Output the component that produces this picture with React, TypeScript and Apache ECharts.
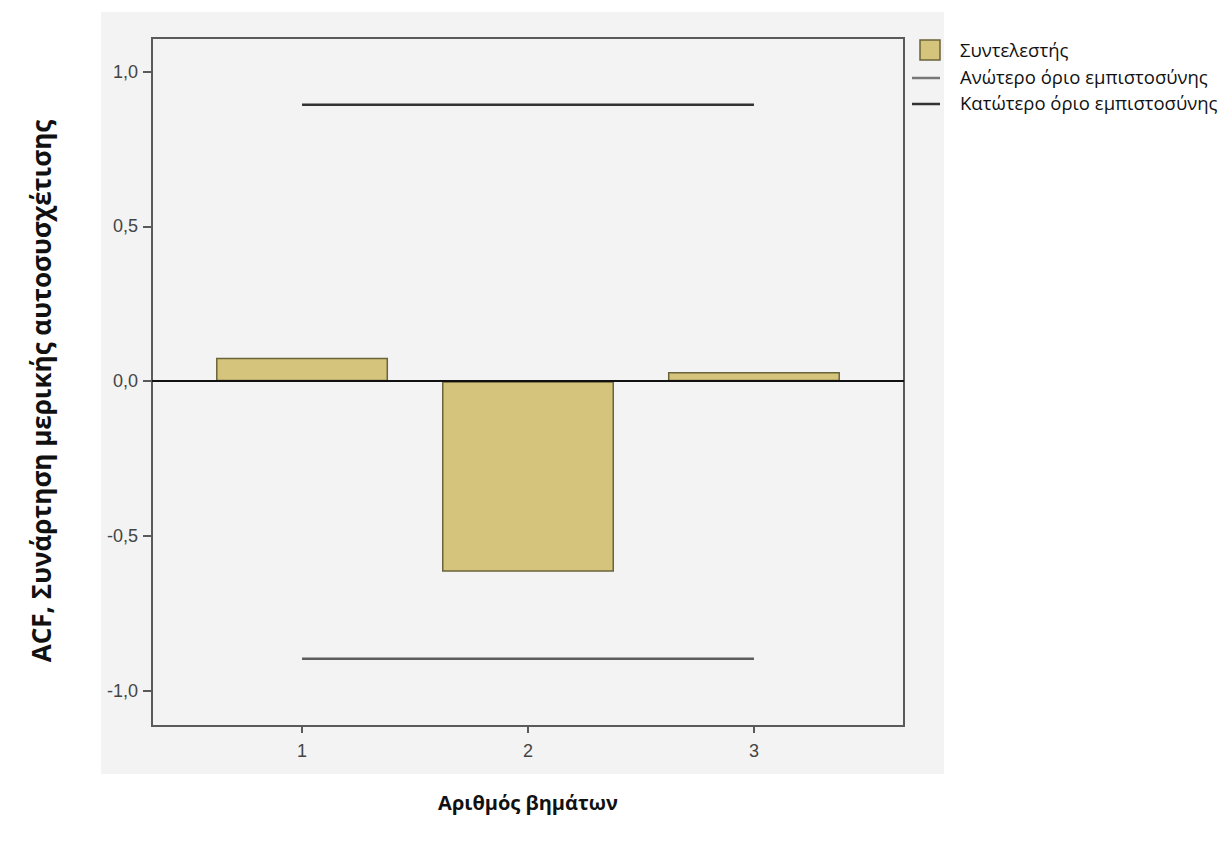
import React, { useEffect, useRef } from "react";
import * as echarts from "echarts";

const lags = [1, 2, 3];
const coefficients = [0.076, -0.616, 0.03];
const upperLimit = [0.893, 0.893, 0.893];
const lowerLimit = [-0.897, -0.897, -0.897];
const yTicks = [-1, -0.5, 0, 0.5, 1];

const seriesNames = ["Συντελεστής", "Ανώτερο όριο εμπιστοσύνης", "Κατώτερο όριο εμπιστοσύνης"];
const xTitle = "Αριθμός βημάτων";
const yTitle = "ACF, Συνάρτηση μερικής αυτοσυσχέτισης";

export default function App() {
  const ref = useRef<HTMLDivElement>(null);
  useEffect(() => {
    if (!ref.current) return;
    const chart = echarts.init(ref.current, null, { renderer: "svg" });
    const barColor = "#d5c57c";
    const upperColor = "#333333";
    const lowerColor = "#5c5c5c";
    const legendFont = { fontFamily: "Open Sans", fontSize: 18.5, fill: "#111", verticalAlign: "middle" };
    chart.setOption({
      animation: false,
      backgroundColor: "#ffffff",
      grid: {
        left: 152,
        top: 38,
        width: 752,
        height: 688,
        show: true,
        backgroundColor: "#f3f3f3",
        borderColor: "#5a5a5a",
        borderWidth: 2,
      },
      xAxis: {
        type: "value",
        min: 0.336,
        max: 3.664,
        name: xTitle,
        nameLocation: "middle",
        nameGap: 66,
        nameTextStyle: { fontFamily: "Open Sans", fontWeight: "bold", fontSize: 20, color: "#111" },
        axisLine: { show: true, onZero: false, lineStyle: { color: "#5a5a5a", width: 2 } },
        axisTick: { show: true, customValues: lags, length: 7, lineStyle: { color: "#5a5a5a", width: 2 } },
        axisLabel: {
          customValues: lags,
          margin: 16,
          fontFamily: "Liberation Sans",
          fontSize: 18,
          color: "#444",
          formatter: (v: number) => String(v),
        },
        splitLine: { show: false },
      },
      yAxis: {
        type: "value",
        min: -1.114,
        max: 1.109,
        axisLine: { show: true, lineStyle: { color: "#5a5a5a", width: 2 } },
        axisTick: { show: true, customValues: yTicks, length: 9, lineStyle: { color: "#5a5a5a", width: 2 } },
        axisLabel: {
          customValues: yTicks,
          margin: 14,
          fontFamily: "Liberation Sans",
          fontSize: 18,
          color: "#444",
          formatter: (v: number) => v.toFixed(1).replace(".", ","),
        },
        splitLine: { show: false },
      },
      graphic: [
        {
          type: "rect",
          z: -10,
          silent: true,
          shape: { x: 101, y: 12, width: 843, height: 762 },
          style: { fill: "#f3f3f3" },
        },
        {
          type: "text",
          x: 41,
          y: 391,
          rotation: Math.PI / 2,
          style: {
            text: yTitle,
            fontFamily: "Open Sans",
            fontWeight: "bold",
            fontSize: 26,
            fill: "#111",
            align: "center",
            verticalAlign: "middle",
          },
        },
        {
          type: "rect",
          shape: { x: 920, y: 40, width: 20, height: 20 },
          style: { fill: barColor, stroke: "#6b6339", lineWidth: 1.5 },
        },
        {
          type: "line",
          shape: { x1: 912, y1: 78, x2: 940, y2: 78 },
          style: { stroke: "#777777", lineWidth: 2.5 },
        },
        {
          type: "line",
          shape: { x1: 912, y1: 104, x2: 940, y2: 104 },
          style: { stroke: "#333333", lineWidth: 2.5 },
        },
        { type: "text", x: 960, y: 49, style: { text: seriesNames[0], ...legendFont } },
        { type: "text", x: 960, y: 76, style: { text: seriesNames[1], ...legendFont } },
        { type: "text", x: 960, y: 102, style: { text: seriesNames[2], ...legendFont } },
      ],
      series: [
        {
          name: seriesNames[0],
          type: "bar",
          barWidth: 172,
          data: lags.map((l, i) => [l, coefficients[i]]),
          itemStyle: { color: barColor, borderColor: "#6b6339", borderWidth: 1.5 },
          markLine: {
            silent: true,
            symbol: "none",
            label: { show: false },
            lineStyle: { color: "#111", width: 2, type: "solid" },
            data: [{ yAxis: 0 }],
          },
          z: 2,
        },
        {
          name: seriesNames[1],
          type: "line",
          data: lags.map((l, i) => [l, upperLimit[i]]),
          symbol: "none",
          lineStyle: { color: upperColor, width: 2.5 },
          z: 3,
        },
        {
          name: seriesNames[2],
          type: "line",
          data: lags.map((l, i) => [l, lowerLimit[i]]),
          symbol: "none",
          lineStyle: { color: lowerColor, width: 2.5 },
          z: 3,
        },
      ],
    });
    return () => chart.dispose();
  }, []);
  return (
    <div
      ref={ref}
      style={{ position: "fixed", left: 0, top: 0, width: 1232, height: 846 }}
    />
  );
}
